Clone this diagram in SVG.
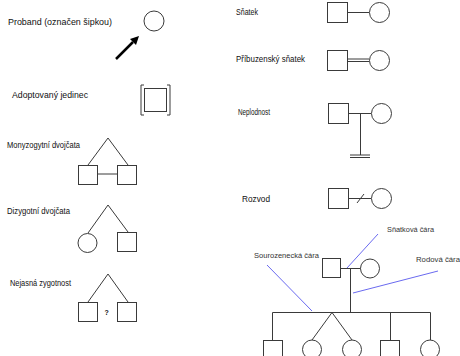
<svg xmlns="http://www.w3.org/2000/svg" width="460" height="356" viewBox="0 0 460 356">
<style>
.s{fill:#fff;stroke:#3a3a3a;stroke-width:1}
.l{fill:none;stroke:#3a3a3a;stroke-width:1}
.b{fill:none;stroke:#6a6af0;stroke-width:1}
text{font-family:"Liberation Sans",Arial,sans-serif;font-size:9px;fill:#111}
.sm{font-size:7px;fill:#333}
</style>
<rect width="460" height="356" fill="#fff"/>
<g id="proband">
<text x="8" y="25" textLength="104" lengthAdjust="spacingAndGlyphs">Proband (označen šipkou)</text>
<circle class="s" cx="154" cy="21" r="10"/>
<line x1="116" y1="59" x2="133" y2="42" stroke="#000" stroke-width="2.5"/>
<polygon points="139,36 130,39 136,45" fill="#000"/>
</g>
<g id="adopted">
<text x="12" y="98" textLength="76" lengthAdjust="spacingAndGlyphs">Adoptovaný jedinec</text>
<path class="l" d="M144,85 H141 V115 H144 M167,85 H170 V115 H167"/>
<rect class="s" x="144.5" y="88.5" width="22" height="23"/>
</g>
<g id="mono">
<text x="7" y="148" textLength="73" lengthAdjust="spacingAndGlyphs">Monyzogytní dvojčata</text>
<path class="l" d="M88,165 L108,138 L128,165 M97,174 H117"/>
<rect class="s" x="78.5" y="165.5" width="19" height="19"/>
<rect class="s" x="117.5" y="165.5" width="19" height="19"/>
</g>
<g id="dizy">
<text x="7" y="214" textLength="63" lengthAdjust="spacingAndGlyphs">Dizygotní dvojčata</text>
<path class="l" d="M88,233 L108,205 L128,232"/>
<circle class="s" cx="87.5" cy="243" r="9.5"/>
<rect class="s" x="117.5" y="232.5" width="19" height="19"/>
</g>
<g id="unclear">
<text x="10" y="286" textLength="61" lengthAdjust="spacingAndGlyphs">Nejasná zygotnost</text>
<path class="l" d="M88,302 L108,274 L128,302"/>
<rect class="s" x="78.5" y="302.5" width="19" height="19"/>
<rect class="s" x="117.5" y="302.5" width="19" height="19"/>
<text x="104.5" y="315" style="font-size:7px;font-weight:bold">?</text>
</g>
<g id="marriage">
<text x="236" y="15" textLength="22" lengthAdjust="spacingAndGlyphs">Sňatek</text>
<rect class="s" x="327.5" y="2.5" width="20" height="20"/>
<line class="l" x1="347.5" y1="12.5" x2="369" y2="12.5"/>
<circle class="s" cx="379.5" cy="12.5" r="10"/>
</g>
<g id="consang">
<text x="236" y="62" textLength="69" lengthAdjust="spacingAndGlyphs">Příbuzenský sňatek</text>
<rect class="s" x="327.5" y="50.5" width="20" height="20"/>
<path class="l" d="M347.5,59 H369 M347.5,61.5 H369"/>
<circle class="s" cx="379.5" cy="60.5" r="10"/>
</g>
<g id="infertile">
<text x="238" y="115" textLength="32" lengthAdjust="spacingAndGlyphs">Neplodnost</text>
<rect class="s" x="328.5" y="103.5" width="20" height="20"/>
<path class="l" d="M348.5,113.5 H371 M360.5,113.5 V155"/>
<circle class="s" cx="381.5" cy="113.5" r="10"/>
<path class="l" d="M350,155 H370 M350,157.5 H370"/>
</g>
<g id="divorce">
<text x="242" y="202" textLength="28" lengthAdjust="spacingAndGlyphs">Rozvod</text>
<rect class="s" x="328.5" y="188.5" width="20" height="20"/>
<path class="l" d="M348.5,198.5 H371 M357,203 L364,194"/>
<circle class="s" cx="381.5" cy="198.5" r="10"/>
</g>
<g id="pedigree">
<rect class="s" x="322.5" y="258.5" width="18" height="19"/>
<circle class="s" cx="370" cy="268.5" r="9.5"/>
<rect class="s" x="263.5" y="340.5" width="19" height="19"/>
<circle class="s" cx="312" cy="349.5" r="9.5"/>
<circle class="s" cx="352" cy="349.5" r="9.5"/>
<rect class="s" x="380.5" y="340.5" width="19" height="19"/>
<circle class="s" cx="430" cy="349.5" r="9.5"/>
</g>
<g id="connectors">
<path class="l" d="M340.5,268.5 H360.5 M350.5,268.5 V312.5 M272.5,312.5 H430.5 M272.5,312.5 V340.5 M390.5,312.5 V340.5 M430.5,312.5 V340 M312,340 L332,312.5 L352,340"/>
<path class="b" d="M267,265 L312,311 M378,234 L347,268 M438,271 L353,293"/>
</g>
<g id="labels">
<text class="sm" x="387" y="232" textLength="47" lengthAdjust="spacingAndGlyphs">Sňatková čára</text>
<text class="sm" x="254" y="258" textLength="65" lengthAdjust="spacingAndGlyphs">Sourozenecká čára</text>
<text class="sm" x="416" y="262" textLength="44" lengthAdjust="spacingAndGlyphs">Rodová čára</text>
</g>
</svg>
